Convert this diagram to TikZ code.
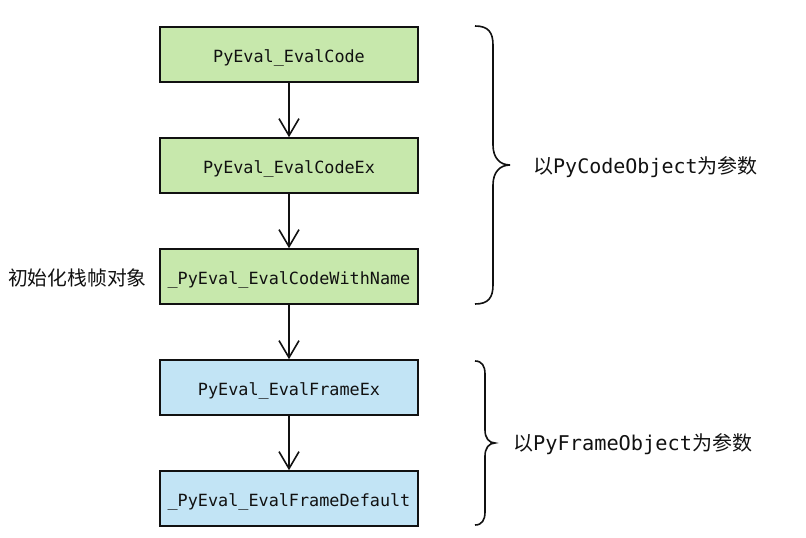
\documentclass[tikz,border=0pt]{standalone}
\usepackage{fontspec}
\setmonofont{DejaVu Sans Mono}
\newfontfamily\cjk{Noto Sans CJK SC}
\usetikzlibrary{arrows.meta}
\definecolor{boxgreen}{RGB}{199,232,172}
\definecolor{boxblue}{RGB}{194,228,245}
\definecolor{inkc}{RGB}{17,17,17}
\begin{document}
\begin{tikzpicture}[x=1pt,y=-1pt,
  fbox/.style={draw=inkc,line width=1.6pt,minimum width=258pt,minimum height=55pt,inner sep=0pt,text height=15pt,text depth=0pt,font=\ttfamily\fontsize{16.8}{18}\selectfont,text=inkc},
  gbox/.style={fbox,fill=boxgreen},
  bbox/.style={fbox,fill=boxblue},
  flow/.style={draw=inkc,line width=1.6pt,-{Straight Barb[length=17pt,width=20pt,line width=1.6pt]}},
  brace/.style={draw=inkc,line width=1.6pt},
  lbl/.style={font=\fontsize{20}{22}\selectfont,text=inkc,inner sep=0pt}]
\useasboundingbox (0,0) rectangle (806,538);
\node[gbox] (a) at (289,54.5) {PyEval\_EvalCode};
\node[gbox] (b) at (289,165.5) {PyEval\_EvalCodeEx};
\node[gbox] (c) at (289,276.5) {\_PyEval\_EvalCodeWithName};
\node[bbox] (d) at (289,387.5) {PyEval\_EvalFrameEx};
\node[bbox] (e) at (289,498.5) {\_PyEval\_EvalFrameDefault};
\draw[flow] (a) -- (b);
\draw[flow] (b) -- (c);
\draw[flow] (c) -- (d);
\draw[flow] (d) -- (e);
\node[lbl,anchor=east] (init) at (147,278) {\cjk\fontsize{19.8}{22}\selectfont 初始化栈帧对象};
\draw[brace] (475,26) .. controls (488,26) and (493,32) .. (493,45) -- (493,145) .. controls (493,158) and (500,165) .. (510,165) .. controls (500,165) and (493,172) .. (493,185) -- (493,285) .. controls (493,298) and (488,304) .. (475,304);
\draw[brace] (475,361) .. controls (482,361) and (485,366) .. (485,374) -- (485,430) .. controls (485,438) and (489,443) .. (495,443) .. controls (489,443) and (485,448) .. (485,456) -- (485,512) .. controls (485,520) and (482,525) .. (475,525);
\node[lbl,anchor=west] (codeobj) at (533,167) {{\cjk 以}{\ttfamily PyCodeObject}{\cjk 为参数}};
\node[lbl,anchor=west] (frameobj) at (513,444) {{\cjk 以}{\ttfamily\fontsize{20.3}{22}\selectfont PyFrameObject}{\cjk 为参数}};
\end{tikzpicture}
\end{document}
